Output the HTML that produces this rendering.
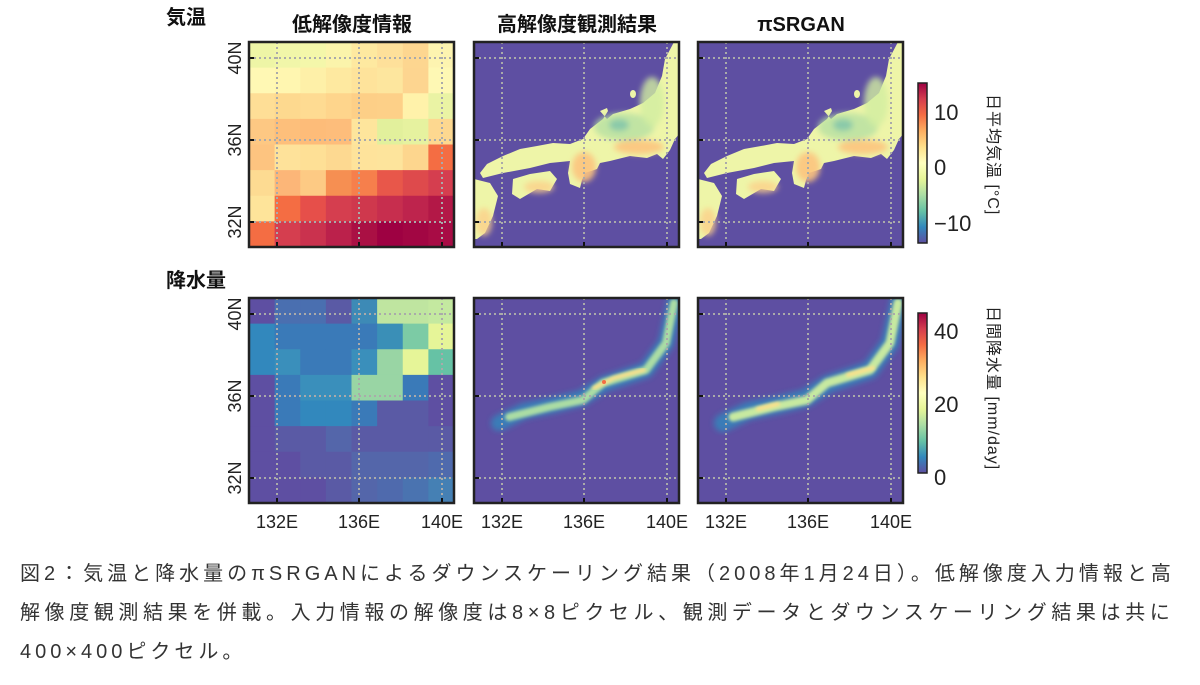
<!DOCTYPE html>
<html><head><meta charset="utf-8"><style>
body{margin:0;background:#fff;width:1200px;height:685px;overflow:hidden;font-family:"Liberation Sans","Noto Sans CJK JP",sans-serif}
.cap{position:absolute;left:20px;font-size:20px;color:#333;white-space:nowrap;letter-spacing:4px}
</style></head><body>
<svg width="1200" height="540" style="position:absolute;left:0;top:0" font-family="Liberation Sans, Noto Sans CJK JP, sans-serif">
<defs>
<linearGradient id="sp" x1="0" y1="0" x2="0" y2="1">
<stop offset="0" stop-color="#9e0142"/><stop offset=".1" stop-color="#d53e4f"/><stop offset=".2" stop-color="#f46d43"/><stop offset=".3" stop-color="#fdae61"/><stop offset=".4" stop-color="#fee08b"/><stop offset=".5" stop-color="#ffffbf"/><stop offset=".6" stop-color="#e6f598"/><stop offset=".7" stop-color="#abdda4"/><stop offset=".8" stop-color="#66c2a5"/><stop offset=".9" stop-color="#3288bd"/><stop offset="1" stop-color="#5e4fa2"/>
</linearGradient>
<filter id="bl"><feGaussianBlur stdDeviation="3"/></filter>
<filter id="bl2"><feGaussianBlur stdDeviation="1.5"/></filter>
<clipPath id="cp"><rect width="205" height="205"/></clipPath>
<g id="land">
<path d="M200,0 L191,17 L188,34 L181,51 L169,61 L156,67 L139,72 L133,77 L126,69 L133,66 L134,69 L129,77 L116,87 L109,97 L96,102 L79,101 L63,104 L46,107 L29,114 L13,122 L6,131 L9,136 L29,131 L56,126 L76,121 L96,119 L94,131 L96,142 L106,146 L108,138 L111,131 L123,127 L126,121 L136,119 L156,114 L173,116 L183,112 L189,117 L196,108 L201,97 L206,91 L206,0Z"/>
<path d="M39,137 L56,132 L76,129 L83,137 L76,149 L63,147 L46,157 L38,152Z"/>
<path d="M0,137 L16,141 L24,154 L19,174 L11,191 L3,197 L0,197Z"/>
<ellipse cx="159" cy="52" rx="3" ry="4"/>
</g>
<g id="grid" stroke="#aaa" stroke-width="2" stroke-dasharray="2,3" fill="none">
<line x1="28" y1="0" x2="28" y2="205"/><line x1="110" y1="0" x2="110" y2="205"/><line x1="193" y1="0" x2="193" y2="205"/>
<line x1="0" y1="16" x2="205" y2="16"/><line x1="0" y1="98" x2="205" y2="98"/><line x1="0" y1="180" x2="205" y2="180"/>
</g>
<g id="frame">
<g stroke="#111" stroke-width="2"><line x1="0" y1="16" x2="5" y2="16"/><line x1="0" y1="98" x2="5" y2="98"/><line x1="0" y1="180" x2="5" y2="180"/><line x1="28" y1="205" x2="28" y2="200"/><line x1="110" y1="205" x2="110" y2="200"/><line x1="193" y1="205" x2="193" y2="200"/></g>
<rect x="0" y="0" width="205" height="205" fill="none" stroke="#222" stroke-width="2.5"/>
</g>
<g id="tland" clip-path="url(#cp)">
<use href="#land" fill="#eef5a8"/>
<g clip-path="url(#cp)" filter="url(#bl)">
<ellipse cx="150" cy="85" rx="30" ry="14" fill="#b5e0a2" opacity=".8"/>
<ellipse cx="145" cy="83" rx="10" ry="6" fill="#66b7ae" opacity=".6"/>
<ellipse cx="178" cy="60" rx="12" ry="25" fill="#d2eda0" opacity=".8"/>
<ellipse cx="165" cy="105" rx="25" ry="7" fill="#fdc47e" opacity=".9"/>
<ellipse cx="110" cy="125" rx="12" ry="15" fill="#fdc47e" opacity=".9"/>
<ellipse cx="65" cy="145" rx="15" ry="6" fill="#fdd08a" opacity=".8"/>
<ellipse cx="10" cy="180" rx="8" ry="14" fill="#fdd08a" opacity=".8"/>
</g>
</g>
</defs>
<g font-size="20" fill="#111" text-anchor="middle" font-weight="bold">
<text x="352" y="31">低解像度情報</text>
<text x="577" y="31">高解像度観測結果</text>
<text x="801" y="31">πSRGAN</text>
</g>
<text x="166" y="24" font-size="20" fill="#111" font-weight="bold">気温</text>
<text x="166" y="287" font-size="20" fill="#111" font-weight="bold">降水量</text>
<g font-size="18" fill="#222" text-anchor="middle">
<text transform="translate(241,58) rotate(-90)">40N</text>
<text transform="translate(241,140) rotate(-90)">36N</text>
<text transform="translate(241,222) rotate(-90)">32N</text>
<text transform="translate(241,314) rotate(-90)">40N</text>
<text transform="translate(241,396) rotate(-90)">36N</text>
<text transform="translate(241,478) rotate(-90)">32N</text>
</g>
<g font-size="18" fill="#222" text-anchor="middle">
<text x="277" y="528">132E</text><text x="359" y="528">136E</text><text x="442" y="528">140E</text>
<text x="502" y="528">132E</text><text x="584" y="528">136E</text><text x="667" y="528">140E</text>
<text x="726" y="528">132E</text><text x="808" y="528">136E</text><text x="891" y="528">140E</text>
</g>
<g transform="translate(249,42)" id="p1"></g>
<g transform="translate(474,42)"><rect width="205" height="205" fill="#5e4fa2"/><use href="#tland"/><use href="#grid"/><use href="#frame"/></g>
<g transform="translate(698,42)"><rect width="205" height="205" fill="#5e4fa2"/><use href="#tland"/><use href="#grid"/><use href="#frame"/></g>
<g transform="translate(474,298)"><rect width="205" height="205" fill="#5e4fa2"/>
<g clip-path="url(#cp)" fill="none" stroke-linecap="round" stroke-linejoin="round">
<path d="M25,125 L50,113 L80,107 L108,100 L130,86 L172,72 L192,45 L202,0" stroke="#3288bd" stroke-width="16" filter="url(#bl)" opacity=".8"/>
<path d="M35,119 L75,109 L109,102 L129,85 L172,72 L192,45 L200,5" stroke="#abdda4" stroke-width="8" filter="url(#bl2)"/>
<path d="M120,90 L140,80 L170,72" stroke="#fee08b" stroke-width="4" filter="url(#bl2)"/>
<circle cx="130" cy="84" r="2" fill="#f46d43"/>
</g><use href="#grid"/><use href="#frame"/></g>
<g transform="translate(698,298)"><rect width="205" height="205" fill="#5e4fa2"/>
<g clip-path="url(#cp)" fill="none" stroke-linecap="round" stroke-linejoin="round">
<path d="M25,125 L50,113 L80,107 L108,100 L130,86 L172,72 L192,45 L202,0" stroke="#3288bd" stroke-width="18" filter="url(#bl)" opacity=".8"/>
<path d="M35,119 L75,109 L109,102 L129,85 L172,72 L192,45 L200,5" stroke="#c7e9a0" stroke-width="9" filter="url(#bl2)"/>
<path d="M60,111 L80,106 M150,77 L175,70" stroke="#fee08b" stroke-width="4" filter="url(#bl2)"/>
</g><use href="#grid"/><use href="#frame"/></g>
<g transform="translate(249,298)" id="p4"></g>
<rect x="918" y="83" width="9" height="160" fill="url(#sp)" stroke="#222" stroke-width="1.5"/>
<rect x="918" y="313" width="9" height="160" fill="url(#sp)" stroke="#222" stroke-width="1.5"/>
<g font-size="22" fill="#222">
<text x="934" y="120">10</text><text x="934" y="175">0</text><text x="934" y="231">−10</text>
<text x="934" y="339">40</text><text x="934" y="412">20</text><text x="934" y="485">0</text>
</g>
<g font-size="16" fill="#222" letter-spacing="1">
<text transform="translate(988,94) rotate(90)">日平均気温 [°C]</text>
<text transform="translate(988,306) rotate(90)">日間降水量 [mm/day]</text>
</g>
</svg>
<div class="cap" style="top:557px">図2：気温と降水量のπSRGANによるダウンスケーリング結果（2008年1月24日）。低解像度入力情報と高</div>
<div class="cap" style="top:596px;letter-spacing:4.6px">解像度観測結果を併載。入力情報の解像度は8×8ピクセル、観測データとダウンスケーリング結果は共に</div>
<div class="cap" style="top:635px">400×400ピクセル。</div>
<script>
var T=[["#eef5a6","#f1f6a9","#f4f7aa","#fbf4ab","#fee9a0","#fee09a","#fdd690","#fdf4b0"],
["#fff8b4","#fff6b0","#fef0a8","#fee9a0","#fee39b","#fde69e","#fdd590","#fef8b4"],
["#fede96","#fdd98f","#fedb92","#fed58c","#fdcf87","#fdd088","#fff2aa","#eaf3a4"],
["#fdc883","#fdbf7b","#fdbc79","#fdbd7b","#fee59c","#e2f09c","#e6f29f","#fdd890"],
["#fdc480","#fee29a","#fee096","#fdd991","#fee39b","#fde49c","#fdd68e","#f46d43"],
["#fddb92","#fcb678","#fdca84","#f68f52","#f67f4c","#e8574a","#de4a4c","#d53e4f"],
["#fee49a","#f46d43","#e64f4a","#d53e4f","#cf384d","#c72e4e","#be244d","#b31847"],
["#f46d43","#d53e4f","#ca324e","#bb214b","#aa1044","#9e0142","#a20643","#a80c45"]];
var P=[["#5e4fa2","#4a6fb0","#4a6fb0","#5a5aa5","#3d8ab6","#bfe5a0","#bfe5a0","#c4e9a0"],
["#3288bd","#3a7ab8","#3a7ab8","#3a7ab8","#3a7ab8","#3a8fb7","#7ccba5","#e6f598"],
["#3288bd","#3a8fbb","#3a7ab8","#3a7ab8","#3a8fbb","#99d5a4","#e6f598","#66c2a5"],
["#5e4fa2","#3a7ab8","#3a8fbb","#3a8fbb","#99d5a4","#99d5a4","#3a7ab8","#5e4fa2"],
["#5e4fa2","#3a7ab8","#3288bd","#3288bd","#3a7ab8","#5a5aa5","#5a5aa5","#5e4fa2"],
["#5e4fa2","#5a5aa5","#5a5aa5","#5466aa","#5a5aa5","#5a5aa5","#5a5aa5","#5a5aa5"],
["#5e4fa2","#5e4fa2","#5a5aa5","#5a5aa5","#5466aa","#5466aa","#5466aa","#4f6aad"],
["#5e4fa2","#5e4fa2","#5e4fa2","#5a5aa5","#5466aa","#4f6aad","#4a73b0","#4580b4"]];
function fill(id,M){var g=document.getElementById(id),s="";var c=205/8;
for(var r=0;r<8;r++)for(var k=0;k<8;k++)s+='<rect x="'+(k*c)+'" y="'+(r*c)+'" width="'+(c+0.6)+'" height="'+(c+0.6)+'" fill="'+M[r][k]+'"/>';
s+='<use href="#grid"/><use href="#frame"/>';g.innerHTML=s;}
fill("p1",T);fill("p4",P);
</script>
</body></html>
